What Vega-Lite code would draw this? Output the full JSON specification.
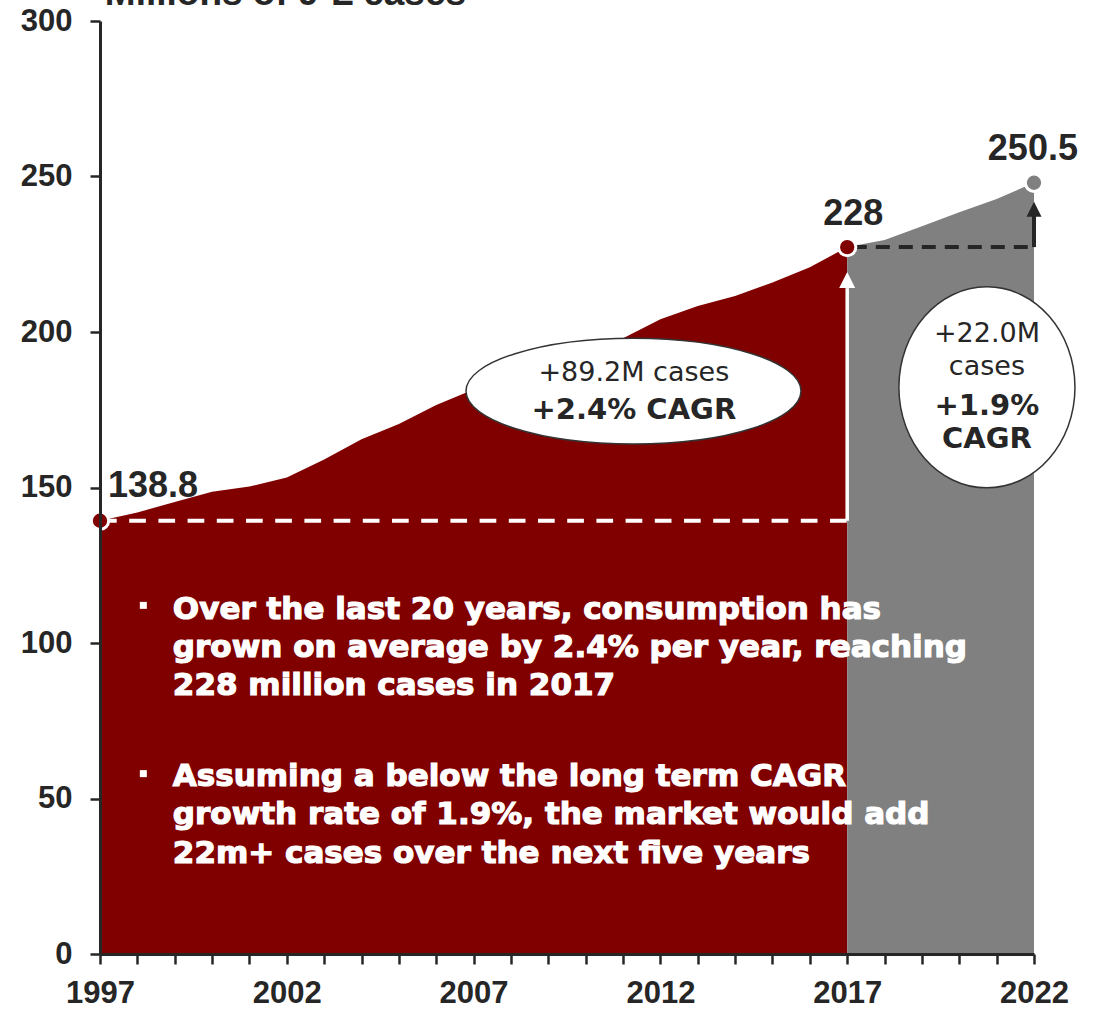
{
  "$schema": "https://vega.github.io/schema/vega-lite/v6.json",
  "width": 934,
  "height": 933,
  "autosize": {"type": "none"},
  "padding": {"left": 100, "top": 21, "right": 60, "bottom": 55},
  "background": "white",
  "config": {
    "view": {"stroke": null},
    "axis": {
      "domainColor": "#262626",
      "domainWidth": 3,
      "tickColor": "#262626",
      "tickWidth": 2.5,
      "tickSize": 10,
      "labelFont": "Liberation Sans",
      "labelFontSize": 31,
      "labelFontWeight": "bold",
      "labelColor": "#262626",
      "grid": false,
      "title": null
    }
  },
  "datasets": {
    "series": [
      {"year": 1997, "value": 139.3, "period": "hist"},
      {"year": 1998, "value": 142.0, "period": "hist"},
      {"year": 1999, "value": 145.3, "period": "hist"},
      {"year": 2000, "value": 148.6, "period": "hist"},
      {"year": 2001, "value": 150.3, "period": "hist"},
      {"year": 2002, "value": 153.2, "period": "hist"},
      {"year": 2003, "value": 159.0, "period": "hist"},
      {"year": 2004, "value": 165.5, "period": "hist"},
      {"year": 2005, "value": 170.4, "period": "hist"},
      {"year": 2006, "value": 176.5, "period": "hist"},
      {"year": 2007, "value": 181.5, "period": "hist"},
      {"year": 2008, "value": 186.0, "period": "hist"},
      {"year": 2009, "value": 190.0, "period": "hist"},
      {"year": 2010, "value": 194.0, "period": "hist"},
      {"year": 2011, "value": 198.0, "period": "hist"},
      {"year": 2012, "value": 204.1, "period": "hist"},
      {"year": 2013, "value": 208.4, "period": "hist"},
      {"year": 2014, "value": 211.6, "period": "hist"},
      {"year": 2015, "value": 215.9, "period": "hist"},
      {"year": 2016, "value": 220.8, "period": "hist"},
      {"year": 2017, "value": 227.3, "period": "hist"},
      {"year": 2017, "value": 227.3, "period": "proj"},
      {"year": 2018, "value": 229.6, "period": "proj"},
      {"year": 2019, "value": 234.0, "period": "proj"},
      {"year": 2020, "value": 238.5, "period": "proj"},
      {"year": 2021, "value": 242.8, "period": "proj"},
      {"year": 2022, "value": 248.0, "period": "proj"}
    ],
    "dots": [
      {"year": 1997, "value": 139.3, "period": "hist"},
      {"year": 2017, "value": 227.3, "period": "hist"},
      {"year": 2022, "value": 248.0, "period": "proj"}
    ],
    "valueLabels": [
      {"year": 1998.42, "value": 147.0, "text": "138.8"},
      {"year": 2017.16, "value": 234.4, "text": "228"},
      {"year": 2021.97, "value": 255.3, "text": "250.5"}
    ],
    "unitLabel": [
      {"year": 1997.13, "value": 305.3, "text": "Millions of 9-L cases"}
    ],
    "notesRegular": [
      {"year": 2011.29, "value": 184.2, "text": "+89.2M cases"},
      {"year": 2020.74, "value": 196.8, "text": "+22.0M"},
      {"year": 2020.74, "value": 186.2, "text": "cases"}
    ],
    "notesBold": [
      {"year": 2011.29, "value": 172.0, "text": "+2.4% CAGR"},
      {"year": 2020.74, "value": 173.3, "text": "+1.9%"},
      {"year": 2020.74, "value": 162.7, "text": "CAGR"}
    ],
    "bullets": [
      {"year": 1998.16, "value": 112.1},
      {"year": 1998.16, "value": 58.0}
    ],
    "bulletText": [
      {"year": 1998.95, "value": 107.7, "text": "Over the last 20 years, consumption has"},
      {"year": 1998.95, "value": 95.5, "text": "grown on average by 2.4% per year, reaching"},
      {"year": 1998.95, "value": 83.3, "text": "228 million cases in 2017"},
      {"year": 1998.95, "value": 54.0, "text": "Assuming a below the long term CAGR"},
      {"year": 1998.95, "value": 41.8, "text": "growth rate of 1.9%, the market would add"},
      {"year": 1998.95, "value": 29.3, "text": "22m+ cases over the next five years"}
    ]
  },
  "encoding": {
    "x": {
      "field": "year",
      "type": "quantitative",
      "scale": {"domain": [1997, 2022], "nice": false, "zero": false},
      "axis": {
        "values": [1997, 1998, 1999, 2000, 2001, 2002, 2003, 2004, 2005, 2006, 2007, 2008, 2009, 2010, 2011, 2012, 2013, 2014, 2015, 2016, 2017, 2018, 2019, 2020, 2021, 2022],
        "format": "d",
        "labelExpr": "(datum.value - 1997) % 5 == 0 ? datum.label : ''",
        "labelPadding": 14,
        "labelFlush": false,
        "labelOverlap": false,
        "zindex": 1
      }
    },
    "y": {
      "field": "value",
      "type": "quantitative",
      "scale": {"domain": [0, 300], "nice": false},
      "axis": {
        "values": [0, 50, 100, 150, 200, 250, 300],
        "labelPadding": 18,
        "labelFlush": false,
        "zindex": 1
      }
    }
  },
  "layer": [
    {
      "data": {"name": "series"},
      "mark": {"type": "area", "interpolate": "linear", "opacity": 1},
      "encoding": {
        "y": {"field": "value", "type": "quantitative", "stack": null},
        "color": {
          "field": "period",
          "type": "nominal",
          "scale": {"domain": ["hist", "proj"], "range": ["#800000", "#808080"]},
          "legend": null
        }
      }
    },
    {
      "data": {"values": [{"year": 1997, "year2": 2017, "value": 139.3}]},
      "mark": {"type": "rule", "color": "white", "strokeWidth": 4, "strokeDash": [16.7, 12.5]},
      "encoding": {"x2": {"field": "year2"}}
    },
    {
      "data": {"values": [{"year": 2017, "value": 139.3, "value2": 214.1}]},
      "mark": {"type": "rule", "color": "white", "strokeWidth": 3.5},
      "encoding": {"y2": {"field": "value2"}}
    },
    {
      "data": {"values": [{"year": 2017, "value": 216.7}]},
      "mark": {"type": "point", "shape": "M0,-1L1,1L-1,1Z", "size": 256, "filled": true, "color": "white", "opacity": 1}
    },
    {
      "data": {"values": [{"year": 2017.15, "year2": 2022, "value": 227.3}]},
      "mark": {"type": "rule", "color": "#262626", "strokeWidth": 4, "strokeDash": [14, 9]},
      "encoding": {"x2": {"field": "year2"}}
    },
    {
      "data": {"values": [{"year": 2022, "value": 227.3, "value2": 237.3}]},
      "mark": {"type": "rule", "color": "#262626", "strokeWidth": 4},
      "encoding": {"y2": {"field": "value2"}}
    },
    {
      "data": {"values": [{"year": 2022, "value": 239.5}]},
      "mark": {"type": "point", "shape": "M0,-1L1,1L-1,1Z", "size": 225, "filled": true, "color": "#262626", "opacity": 1}
    },
    {
      "data": {"values": [{"year": 2011.28, "value": 181.0}]},
      "mark": {"type": "point", "shape": "M-1,0A1,0.316,0,1,1,1,0A1,0.316,0,1,1,-1,0Z", "size": 112225, "filled": true, "fill": "white", "stroke": "#333333", "strokeWidth": 1.5, "opacity": 1}
    },
    {
      "data": {"values": [{"year": 2020.74, "value": 182.2}]},
      "mark": {"type": "point", "shape": "M0,-1A0.876,1,0,1,1,0,1A0.876,1,0,1,1,0,-1Z", "size": 40401, "filled": true, "fill": "white", "stroke": "#333333", "strokeWidth": 1.5, "opacity": 1}
    },
    {
      "data": {"name": "notesRegular"},
      "mark": {"type": "text", "font": "DejaVu Sans", "fontSize": 27, "color": "#262626", "align": "center", "baseline": "alphabetic"},
      "encoding": {"text": {"field": "text"}}
    },
    {
      "data": {"name": "notesBold"},
      "mark": {"type": "text", "font": "DejaVu Sans", "fontSize": 29, "fontWeight": "bold", "color": "#262626", "align": "center", "baseline": "alphabetic"},
      "encoding": {"text": {"field": "text"}}
    },
    {
      "data": {"name": "dots"},
      "mark": {"type": "point", "shape": "circle", "size": 300, "filled": true, "stroke": "white", "strokeWidth": 3, "opacity": 1},
      "encoding": {
        "color": {
          "field": "period",
          "type": "nominal",
          "scale": {"domain": ["hist", "proj"], "range": ["#800000", "#808080"]},
          "legend": null
        }
      }
    },
    {
      "data": {"name": "valueLabels"},
      "mark": {"type": "text", "font": "Liberation Sans", "fontSize": 36, "fontWeight": "bold", "color": "#262626", "align": "center", "baseline": "alphabetic"},
      "encoding": {"text": {"field": "text"}}
    },
    {
      "data": {"name": "unitLabel"},
      "mark": {"type": "text", "font": "Liberation Sans", "fontSize": 37, "fontWeight": "bold", "color": "#262626", "align": "left", "baseline": "alphabetic"},
      "encoding": {"text": {"field": "text"}}
    },
    {
      "data": {"name": "bullets"},
      "mark": {"type": "point", "shape": "square", "size": 49, "filled": true, "color": "white", "opacity": 1}
    },
    {
      "data": {"name": "bulletText"},
      "mark": {"type": "text", "font": "DejaVu Sans", "fontSize": 31, "fontWeight": "bold", "color": "white", "stroke": "white", "strokeWidth": 1.2, "align": "left", "baseline": "alphabetic"},
      "encoding": {"text": {"field": "text"}}
    }
  ]
}
